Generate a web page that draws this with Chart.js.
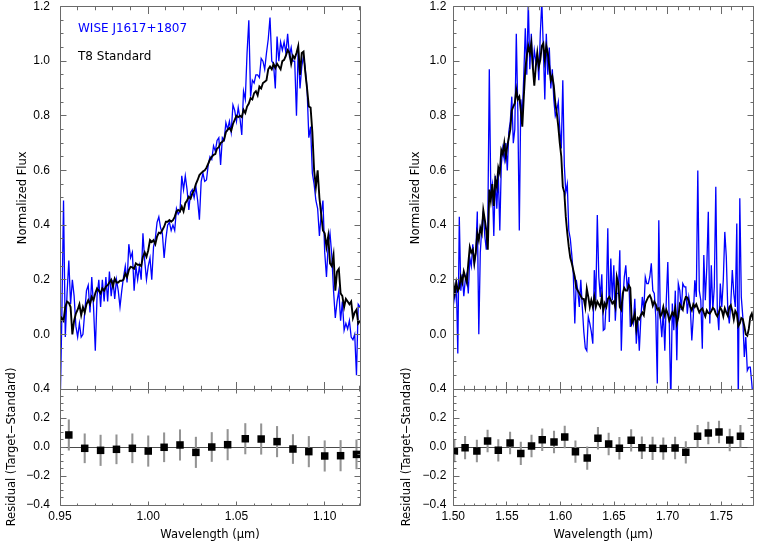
<!DOCTYPE html>
<html>
<head>
<meta charset="utf-8">
<script src="https://cdn.jsdelivr.net/npm/chart.js@4.4.1/dist/chart.umd.min.js"></script>
<style>
html,body{margin:0;padding:0;background:#fff;}
#wrap{position:relative;width:761px;height:548px;overflow:hidden;background:#fff;}
#wrap canvas{position:absolute;left:0;top:0;}
</style>
</head>
<body>
<div id="wrap">
<canvas id="lt" width="761" height="548"></canvas>
<canvas id="lb" width="761" height="548"></canvas>
<canvas id="rt" width="761" height="548"></canvas>
<canvas id="rb" width="761" height="548"></canvas>
</div>
<script>
// ---------------- DATA ----------------
const legendLabels = ['WISE J1617+1807', 'T8 Standard'];

// Left spectrum (evenly sampled grid)
const leftStart = 0.95, leftStep = 0.001;
const leftTarget = [
-0.30,0.05,0.49,-0.01,0.15,0.27,0.11,0.20,0.14,0.03,
-0.01,0.04,-0.01,0.00,0.08,0.16,0.18,0.08,0.21,0.10,
-0.06,0.14,0.20,0.10,0.20,0.12,0.21,0.12,0.23,0.14,
0.20,0.13,0.20,0.16,0.10,0.16,0.21,0.25,0.19,0.33,
0.28,0.30,0.16,0.25,0.20,0.25,0.20,0.37,0.27,0.20,
0.25,0.28,0.20,0.32,0.35,0.41,0.43,0.39,0.37,0.28,
0.35,0.40,0.41,0.38,0.40,0.38,0.46,0.44,0.45,0.58,
0.53,0.58,0.53,0.455,0.52,0.53,0.50,0.54,0.49,0.42,
0.56,0.59,0.56,0.565,0.62,0.65,0.64,0.69,0.67,0.71,
0.72,0.62,0.72,0.71,0.775,0.75,0.78,0.74,0.84,0.82,
0.78,0.83,0.79,0.73,0.89,0.86,1.03,1.15,0.87,0.93,
0.92,0.95,0.95,0.94,1.01,1.00,0.97,1.03,1.08,1.16,
1.00,0.99,0.90,1.09,1.00,1.07,1.04,1.07,1.03,1.10,
1.02,1.05,1.00,1.00,0.80,1.05,0.90,0.98,1.02,0.97,
0.90,0.72,0.76,0.59,0.55,0.49,0.46,0.36,0.44,0.49,
0.30,0.21,0.33,0.37,0.29,0.16,0.06,0.12,0.16,0.05,
0.12,0.015,0.04,0.02,0.05,-0.01,-0.02,0.00,-0.15,0.11,
0.10];
const leftStandard = [
0.04,0.06,0.05,0.10,0.12,0.115,0.10,0.00,0.05,0.076,
0.09,0.11,0.07,0.10,0.08,0.11,0.125,0.11,0.137,0.125,
0.15,0.168,0.16,0.15,0.168,0.16,0.175,0.18,0.19,0.20,
0.175,0.204,0.19,0.19,0.196,0.196,0.20,0.223,0.21,0.235,
0.247,0.245,0.24,0.26,0.255,0.255,0.25,0.284,0.30,0.284,
0.308,0.345,0.338,0.345,0.33,0.358,0.372,0.37,0.382,0.394,
0.412,0.412,0.418,0.412,0.418,0.43,0.45,0.455,0.45,0.468,
0.45,0.48,0.49,0.504,0.497,0.516,0.528,0.55,0.565,0.583,
0.59,0.596,0.60,0.61,0.625,0.64,0.65,0.657,0.66,0.68,
0.685,0.70,0.705,0.712,0.74,0.749,0.755,0.745,0.77,0.785,
0.80,0.795,0.80,0.795,0.822,0.81,0.834,0.845,0.865,0.86,
0.883,0.89,0.875,0.907,0.90,0.92,0.925,0.93,0.97,0.98,
0.97,0.99,0.975,0.99,0.98,0.97,1.00,1.005,1.02,1.04,
1.03,0.99,1.02,1.01,1.03,1.055,0.95,1.03,1.035,0.96,
0.90,0.834,0.83,0.74,0.60,0.54,0.60,0.50,0.44,0.38,
0.37,0.32,0.36,0.26,0.25,0.29,0.16,0.23,0.24,0.15,
0.14,0.10,0.13,0.12,0.11,0.12,0.06,0.08,0.09,0.04,
0.05];

// Right spectrum (evenly sampled grid)
const rightStart = 1.50, rightStep = 0.0014;
const rightTarget = [
0.17,0.13,0.20,-0.07,0.43,0.16,0.22,0.14,0.20,0.22,
0.15,0.28,0.25,0.33,0.26,0.30,0.45,0.00,0.30,0.39,
0.45,0.36,0.31,0.40,0.97,0.52,0.55,0.36,0.58,0.46,
0.59,0.38,0.62,0.68,0.64,0.70,0.60,0.74,0.78,0.87,
0.70,0.75,1.10,0.82,0.38,0.86,0.80,0.95,1.12,0.95,
1.22,0.97,1.10,0.97,1.04,1.00,1.03,0.93,1.10,1.22,
1.05,0.86,1.10,0.95,1.05,0.90,0.97,0.86,0.80,0.82,
0.85,0.75,0.68,0.93,0.62,0.52,0.55,0.38,0.35,0.29,
0.22,0.04,0.20,0.16,0.10,0.20,0.10,0.01,-0.05,-0.06,
0.064,0.04,0.01,-0.034,0.235,0.125,0.437,0.21,0.137,0.22,
0.015,0.02,0.125,0.388,0.045,0.278,0.125,0.253,0.05,0.15,
0.15,0.308,-0.06,0.125,0.21,0.253,0.16,0.21,0.027,0.064,
0.04,0.13,-0.034,0.057,-0.06,0.057,0.137,0.088,0.21,0.186,
0.186,0.21,0.26,0.16,0.15,0.064,-0.18,0.418,0.064,-0.01,
0.088,-0.06,0.125,0.265,0.04,-0.25,0.113,0.015,0.16,-0.095,
0.186,0.16,0.088,0.186,0.174,0.174,0.076,0.137,0.10,-0.022,
0.064,0.198,0.137,0.60,0.16,0.125,-0.053,0.29,0.125,0.247,
0.449,0.04,0.253,0.088,0.174,0.54,0.088,0.015,0.186,0.10,
0.20,0.375,0.284,0.088,0.04,0.113,0.235,0.15,0.10,0.406,
-0.25,0.498,0.137,0.064,-0.083,-0.01,-0.132,-0.12,-0.12,-0.18,
-0.25];
const rightStandard = [
0.19,0.15,0.19,0.16,0.17,0.21,0.19,0.23,0.21,0.19,
0.26,0.32,0.30,0.31,0.26,0.30,0.37,0.345,0.39,0.37,
0.455,0.42,0.38,0.31,0.53,0.49,0.55,0.47,0.565,0.54,
0.61,0.59,0.675,0.66,0.70,0.65,0.69,0.72,0.75,0.82,
0.834,0.846,0.895,0.86,0.87,0.82,0.76,0.87,0.97,1.02,
1.055,1.03,1.065,0.98,0.91,0.98,1.03,0.98,1.005,1.055,
1.065,1.005,1.055,1.03,0.98,0.93,0.945,0.91,0.846,0.81,
0.76,0.70,0.65,0.54,0.52,0.43,0.37,0.32,0.28,0.26,
0.235,0.21,0.17,0.16,0.15,0.14,0.13,0.13,0.10,0.167,
0.137,0.10,0.125,0.10,0.137,0.10,0.12,0.11,0.10,0.137,
0.088,0.113,0.10,0.13,0.137,0.125,0.113,0.12,0.10,0.21,
0.186,0.10,0.09,0.15,0.17,0.16,0.16,0.18,0.17,0.04,
0.052,0.076,0.02,0.06,0.055,0.07,0.08,0.07,0.113,0.125,
0.137,0.143,0.13,0.105,0.12,0.11,0.09,0.095,0.065,0.076,
0.10,0.07,0.09,0.075,0.05,0.065,0.08,0.07,0.095,0.04,
0.062,0.11,0.10,0.09,0.12,0.137,0.135,0.12,0.10,0.088,
0.11,0.10,0.11,0.095,0.08,0.09,0.095,0.08,0.066,0.088,
0.078,0.076,0.085,0.097,0.092,0.075,0.066,0.08,0.098,0.088,
0.066,0.095,0.08,0.068,0.10,0.107,0.085,0.055,0.086,0.076,
0.03,0.04,0.06,0.056,0.03,0.0,-0.005,0.02,0.064,0.076,
0.05];

// Residuals
const leftResWave = [0.955,0.964,0.973,0.982,0.991,1.000,1.009,1.018,1.027,1.036,1.045,1.055,1.064,1.073,1.082,1.091,1.100,1.109,1.118];
const leftResValue = [0.083,-0.009,-0.023,-0.016,-0.009,-0.028,-0.002,0.014,-0.037,0.000,0.016,0.057,0.055,0.037,-0.014,-0.032,-0.062,-0.060,-0.051];
const leftResError = [0.105,0.100,0.105,0.100,0.100,0.105,0.100,0.105,0.105,0.100,0.105,0.105,0.105,0.105,0.100,0.105,0.105,0.105,0.100];

const rightResWave = [1.501,1.511,1.522,1.532,1.542,1.553,1.563,1.573,1.583,1.594,1.604,1.614,1.625,1.635,1.645,1.655,1.666,1.676,1.686,1.696,1.707,1.717,1.728,1.738,1.748,1.758,1.768];
const rightResValue = [-0.028,-0.005,-0.028,0.041,-0.023,0.028,-0.044,0.007,0.050,0.034,0.069,-0.032,-0.076,0.060,0.021,-0.009,0.046,-0.005,-0.009,-0.011,-0.007,-0.037,0.074,0.097,0.103,0.048,0.074];
const rightResError = [0.075,0.078,0.075,0.075,0.075,0.075,0.078,0.075,0.075,0.075,0.075,0.075,0.078,0.075,0.075,0.075,0.075,0.075,0.078,0.075,0.075,0.075,0.075,0.075,0.075,0.075,0.075];

// Axis ranges and tick labels
const leftXRange = [0.95, 1.12];
const rightXRange = [1.50, 1.78];
const fluxRange = [-0.2, 1.2];
const resRange = [-0.4, 0.4];
const leftXTicks = [0.95, 1.00, 1.05, 1.10];
const rightXTicks = [1.50, 1.55, 1.60, 1.65, 1.70, 1.75];
const fluxTicks = [0.0, 0.2, 0.4, 0.6, 0.8, 1.0, 1.2];
const resTicks = [-0.4, -0.2, 0.0, 0.2, 0.4];

// ---------------- HELPERS ----------------
const BLUE = '#0000ff';
const FRAME = '#6a6a6a';
const TICKFONT = {family: 'Liberation Sans', size: 12, lineHeight: 1};
const TITLEFONT = {family: 'DejaVu Sans', size: 11.5};

function spectrum(start, step, values) {
  return values.map((v, i) => ({x: +(start + i * step).toFixed(5), y: v}));
}
function fmtY(v) {
  const s = Math.abs(v).toFixed(1);
  return v < -1e-9 ? '\u2212' + s : s;
}
function snap(p) { return Math.round(p - 0.5) + 0.5; }

const frameTicks = {
  id: 'frameTicks',
  afterDatasetsDraw(chart, args, o) {
    const {ctx, chartArea: a} = chart;
    const xs = chart.scales.x, ys = chart.scales.y;
    const L = snap(a.left), R = snap(a.right), T = snap(a.top), B = snap(a.bottom);
    ctx.save();
    ctx.strokeStyle = FRAME;
    ctx.lineWidth = 1;
    ctx.beginPath();
    ctx.rect(L, T, R - L, B - T);
    const nx = Math.round((xs.max - xs.min) / o.xMinor);
    for (let k = 0; k <= nx; k++) {
      const v = xs.min + k * o.xMinor;
      const q = v / o.xMajor;
      const major = Math.abs(q - Math.round(q)) < 1e-6;
      const len = major ? o.xLen : o.xLen / 2;
      const px = snap(xs.getPixelForValue(v));
      ctx.moveTo(px, B); ctx.lineTo(px, B - len);
      ctx.moveTo(px, T); ctx.lineTo(px, T + len);
    }
    const ny = Math.round((ys.max - ys.min) / o.yMinor);
    for (let k = 0; k <= ny; k++) {
      const v = ys.min + k * o.yMinor;
      const q = v / o.yMajor;
      const major = Math.abs(q - Math.round(q)) < 1e-6;
      const len = major ? o.yLen : o.yLen / 2;
      const py = snap(ys.getPixelForValue(v));
      ctx.moveTo(L, py); ctx.lineTo(L + len, py);
      ctx.moveTo(R, py); ctx.lineTo(R - len, py);
    }
    ctx.stroke();
    ctx.restore();
  }
};

const zeroLine = {
  id: 'zeroLine',
  beforeDatasetsDraw(chart) {
    const {ctx, chartArea: a} = chart;
    const py = snap(chart.scales.y.getPixelForValue(0));
    ctx.save();
    ctx.strokeStyle = '#4a4a4a';
    ctx.lineWidth = 1;
    ctx.beginPath();
    ctx.moveTo(a.left, py); ctx.lineTo(a.right, py);
    ctx.stroke();
    ctx.restore();
  }
};

const legendText = {
  id: 'legendText',
  afterDatasetsDraw(chart) {
    const {ctx, chartArea: a} = chart;
    ctx.save();
    ctx.font = '12px "DejaVu Sans"';
    ctx.textBaseline = 'middle';
    ctx.textAlign = 'left';
    ctx.fillStyle = BLUE;
    ctx.fillText(legendLabels[0], a.left + 18, a.top + 22.5);
    ctx.fillStyle = '#000';
    ctx.fillText(legendLabels[1], a.left + 18, a.top + 50.5);
    ctx.restore();
  }
};

function yScale(range, ticks, title, titlePad, labelGap) {
  return {
    type: 'linear', min: range[0], max: range[1],
    afterBuildTicks: s => { s.ticks = ticks.map(v => ({value: v})); },
    afterFit: s => { s.width = 60; },
    // grid hidden; tickLength only offsets the labels from the axis
    grid: {display: false, drawTicks: true, tickLength: labelGap},
    border: {display: false},
    ticks: {font: TICKFONT, color: '#000', padding: 0, callback: v => fmtY(v), autoSkip: false},
    title: {display: true, text: title, font: TITLEFONT, color: '#000', padding: {top: titlePad, bottom: 0}}
  };
}
function xScale(range, ticks, show) {
  const s = {
    type: 'linear', min: range[0], max: range[1], display: show,
    afterBuildTicks: sc => { sc.ticks = ticks.map(v => ({value: v})); },
    grid: {display: false, drawTicks: false},
    border: {display: false},
    ticks: {font: TICKFONT, color: '#000', padding: 6, maxRotation: 0, autoSkip: false, callback: v => v.toFixed(2)},
    title: {display: show, text: 'Wavelength (\u03bcm)', font: TITLEFONT, color: '#000', padding: {top: 0, bottom: 6}}
  };
  if (show) s.afterFit = sc => { sc.height = 43; };
  return s;
}

function baseOptions(pad, scales, ticksOpt) {
  return {
    responsive: false, animation: false, devicePixelRatio: 1,
    layout: {padding: pad},
    plugins: {legend: {display: false}, tooltip: {enabled: false}, frameTicks: ticksOpt},
    scales: scales,
    events: []
  };
}

function spectrumChart(id, pad, xr, xt, target, standard, start, step, yTitlePad, yLabelGap, extraPlugins) {
  return new Chart(document.getElementById(id), {
    type: 'scatter',
    data: {datasets: [
      {data: spectrum(start, step, standard), showLine: true, borderColor: '#000', borderWidth: 1.9, pointRadius: 0, tension: 0, order: 0},
      {data: spectrum(start, step, target), showLine: true, borderColor: BLUE, borderWidth: 1.3, pointRadius: 0, tension: 0, order: 1}
    ]},
    options: baseOptions(pad, {
      x: xScale(xr, xt, false),
      y: yScale(fluxRange, fluxTicks, 'Normalized Flux', yTitlePad, yLabelGap)
    }, {xMinor: 0.01, xMajor: 0.05, xLen: 7.5, yMinor: 0.05, yMajor: 0.2, yLen: 6}),
    plugins: [frameTicks].concat(extraPlugins)
  });
}

function residualChart(id, pad, xr, xt, wave, val, err, yTitlePad, yLabelGap) {
  return new Chart(document.getElementById(id), {
    type: 'scatter',
    data: {datasets: [
      {data: wave.map((x, i) => ({x: x, y: val[i]})), pointStyle: 'rect', pointRadius: 5.3, backgroundColor: '#000', borderWidth: 0, order: 0},
      {type: 'bar', data: wave.map((x, i) => ({x: x, y: [val[i] - err[i], val[i] + err[i]]})), backgroundColor: '#939393', borderWidth: 0, barThickness: 1.4, grouped: false, order: 1}
    ]},
    options: baseOptions(pad, {
      x: Object.assign(xScale(xr, xt, true), {offset: false}),
      y: yScale(resRange, resTicks, 'Residual (Target\u2212Standard)', yTitlePad, yLabelGap)
    }, {xMinor: 0.01, xMajor: 0.05, xLen: 4, yMinor: 0.05, yMajor: 0.2, yLen: 6}),
    plugins: [zeroLine, frameTicks]
  });
}

// ---------------- CHARTS ----------------
spectrumChart('lt', {left: 0, right: 401, top: 6.5, bottom: 159}, leftXRange, leftXTicks, leftTarget, leftStandard, leftStart, leftStep, 16, 10, [legendText]);
residualChart('lb', {left: 0, right: 401, top: 389, bottom: 0}, leftXRange, leftXTicks, leftResWave, leftResValue, leftResError, 5.5, 10);
spectrumChart('rt', {left: 393.3, right: 7.7, top: 6.5, bottom: 159}, rightXRange, rightXTicks, rightTarget, rightStandard, rightStart, rightStep, 15.8, 7, []);
residualChart('rb', {left: 393.3, right: 7.7, top: 389, bottom: 0}, rightXRange, rightXTicks, rightResWave, rightResValue, rightResError, 6.4, 7);
</script>
</body>
</html>
